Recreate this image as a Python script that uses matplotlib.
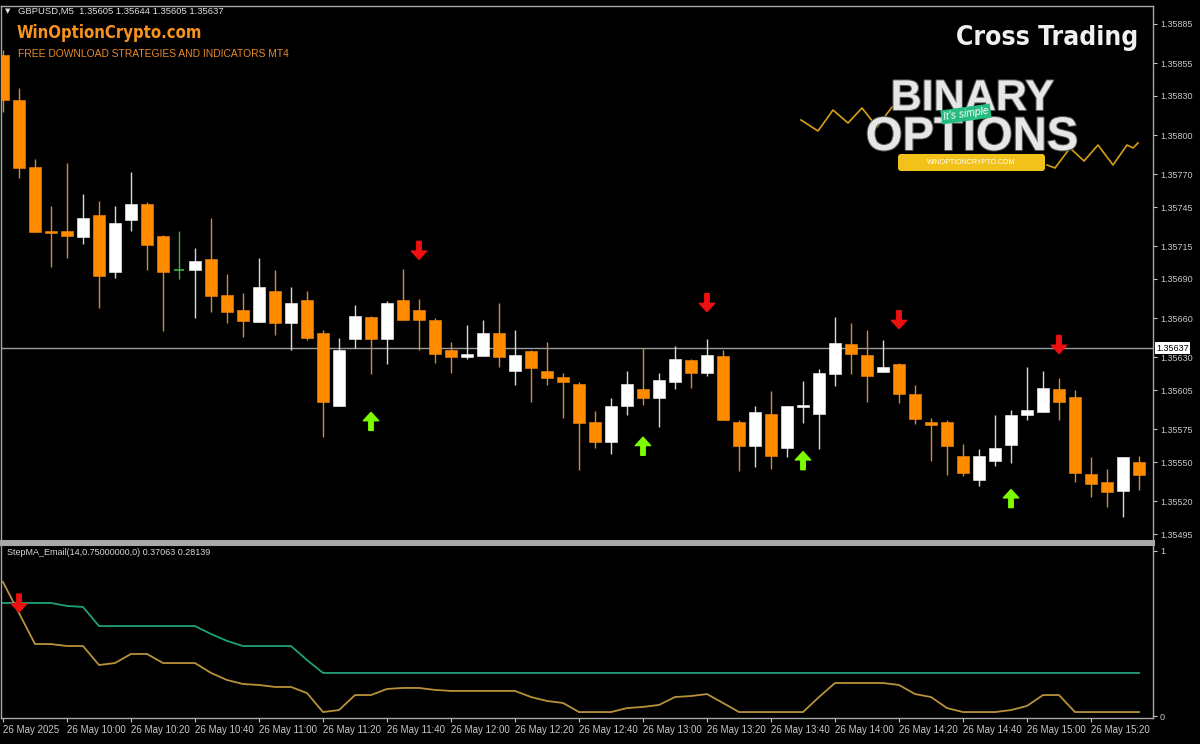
import matplotlib.pyplot as plt
import matplotlib.patheffects as pe
from matplotlib import font_manager as fm
from matplotlib.patches import FancyBboxPatch

plt.rcParams['font.family'] = ['Liberation Sans', 'DejaVu Sans']

# GBPUSD M5 candles, 26 May 2025 09:40 .. 15:35
opens = [1.35861, 1.35827, 1.35776, 1.35727, 1.35727, 1.35722, 1.35739, 1.35695, 1.35735, 1.35747,
         1.35723, 1.35697, 1.35697, 1.35705, 1.35678, 1.35666, 1.35657, 1.35681, 1.35656, 1.35674,
         1.35649, 1.35593, 1.35644, 1.35661, 1.35644, 1.35674, 1.35666, 1.35659, 1.35636, 1.35630,
         1.35631, 1.35649, 1.35620, 1.35635, 1.35620, 1.35615, 1.35610, 1.35581, 1.35565, 1.35593,
         1.35606, 1.35599, 1.35611, 1.35628, 1.35618, 1.35631, 1.35581, 1.35562, 1.35587, 1.35561,
         1.35592, 1.35587, 1.35617, 1.35640, 1.35632, 1.35619, 1.35625, 1.35602, 1.35581, 1.35581,
         1.35555, 1.35536, 1.35551, 1.35563, 1.35586, 1.35588, 1.35606, 1.35600, 1.35541, 1.35535,
         1.35528, 1.35550]
highs = [1.35865, 1.35836, 1.35782, 1.35746, 1.35779, 1.35755, 1.35750, 1.35746, 1.35772, 1.35749,
         1.35724, 1.35727, 1.35714, 1.35737, 1.35694, 1.35679, 1.35706, 1.35697, 1.35684, 1.35681,
         1.35651, 1.35645, 1.35670, 1.35662, 1.35673, 1.35698, 1.35675, 1.35660, 1.35642, 1.35655,
         1.35659, 1.35672, 1.35651, 1.35636, 1.35642, 1.35618, 1.35611, 1.35589, 1.35599, 1.35620,
         1.35637, 1.35618, 1.35639, 1.35629, 1.35644, 1.35636, 1.35582, 1.35593, 1.35604, 1.35593,
         1.35612, 1.35621, 1.35661, 1.35656, 1.35651, 1.35643, 1.35626, 1.35609, 1.35584, 1.35582,
         1.35564, 1.35560, 1.35586, 1.35590, 1.35623, 1.35620, 1.35614, 1.35605, 1.35554, 1.35545,
         1.35554, 1.35555]
lows = [1.35818, 1.35767, 1.35726, 1.35699, 1.35706, 1.35717, 1.35668, 1.35691, 1.35727, 1.35697,
        1.35650, 1.35690, 1.35660, 1.35665, 1.35656, 1.35646, 1.35657, 1.35647, 1.35636, 1.35643,
        1.35569, 1.35593, 1.35637, 1.35617, 1.35625, 1.35659, 1.35636, 1.35626, 1.35618, 1.35629,
        1.35631, 1.35623, 1.35609, 1.35596, 1.35609, 1.35584, 1.35544, 1.35561, 1.35556, 1.35586,
        1.35594, 1.35577, 1.35606, 1.35607, 1.35616, 1.35582, 1.35543, 1.35546, 1.35545, 1.35554,
        1.35580, 1.35560, 1.35608, 1.35617, 1.35596, 1.35619, 1.35595, 1.35579, 1.35551, 1.35540,
        1.35539, 1.35532, 1.35547, 1.35549, 1.35582, 1.35588, 1.35582, 1.35535, 1.35523, 1.35516,
        1.35508, 1.35529]
closes = [1.35827, 1.35775, 1.35726, 1.35725, 1.35723, 1.35737, 1.35692, 1.35733, 1.35747, 1.35716,
          1.35695, 1.35697, 1.35704, 1.35677, 1.35665, 1.35658, 1.35684, 1.35656, 1.35672, 1.35645,
          1.35596, 1.35636, 1.35662, 1.35644, 1.35672, 1.35659, 1.35659, 1.35633, 1.35630, 1.35633,
          1.35649, 1.35630, 1.35632, 1.35622, 1.35614, 1.35611, 1.35580, 1.35565, 1.35593, 1.35610,
          1.35599, 1.35613, 1.35629, 1.35618, 1.35632, 1.35582, 1.35562, 1.35588, 1.35555, 1.35593,
          1.35594, 1.35618, 1.35641, 1.35633, 1.35616, 1.35623, 1.35602, 1.35583, 1.35578, 1.35562,
          1.35542, 1.35555, 1.35561, 1.35586, 1.35590, 1.35607, 1.35596, 1.35542, 1.35533, 1.35527,
          1.35554, 1.35540]

# signal arrows (bar index, price at arrow tip)
sell_bars = [26, 44, 56, 66]
sell_levels = [1.35705, 1.35665, 1.35652, 1.35633]
buy_bars = [23, 40, 50, 63]
buy_levels = [1.35588, 1.35569, 1.35558, 1.35529]

bid_price = 1.35637
price_ticks = [1.35885, 1.35855, 1.35830, 1.35800, 1.35770, 1.35745, 1.35715, 1.35690,
               1.35660, 1.35630, 1.35605, 1.35575, 1.35550, 1.35520, 1.35495]
time_labels = ["26 May 2025", "26 May 10:00", "26 May 10:20", "26 May 10:40", "26 May 11:00",
               "26 May 11:20", "26 May 11:40", "26 May 12:00", "26 May 12:20", "26 May 12:40",
               "26 May 13:00", "26 May 13:20", "26 May 13:40", "26 May 14:00", "26 May 14:20",
               "26 May 14:40", "26 May 15:00", "26 May 15:20"]

# StepMA_Email sub window
step_fast = [0.685, 0.685, 0.685, 0.685, 0.667, 0.661, 0.545, 0.545, 0.545, 0.545,
             0.545, 0.545, 0.545, 0.497, 0.455, 0.424, 0.424, 0.424, 0.424, 0.339,
             0.261, 0.261, 0.261, 0.261, 0.261, 0.261, 0.261, 0.261, 0.261, 0.261,
             0.261, 0.261, 0.261, 0.261, 0.261, 0.261, 0.261, 0.261, 0.261, 0.261,
             0.261, 0.261, 0.261, 0.261, 0.261, 0.261, 0.261, 0.261, 0.261, 0.261,
             0.261, 0.261, 0.261, 0.261, 0.261, 0.261, 0.261, 0.261, 0.261, 0.261,
             0.261, 0.261, 0.261, 0.261, 0.261, 0.261, 0.261, 0.261, 0.261, 0.261,
             0.261, 0.261]
step_slow = [0.812, 0.624, 0.436, 0.436, 0.424, 0.424, 0.309, 0.321, 0.376, 0.376,
             0.321, 0.321, 0.321, 0.261, 0.218, 0.194, 0.188, 0.176, 0.176, 0.139,
             0.024, 0.036, 0.127, 0.127, 0.164, 0.170, 0.170, 0.158, 0.152, 0.152,
             0.152, 0.152, 0.152, 0.115, 0.091, 0.079, 0.024, 0.024, 0.024, 0.048,
             0.055, 0.067, 0.115, 0.121, 0.133, 0.079, 0.024, 0.024, 0.024, 0.024,
             0.024, 0.115, 0.200, 0.200, 0.200, 0.200, 0.188, 0.133, 0.115, 0.048,
             0.024, 0.024, 0.024, 0.036, 0.061, 0.127, 0.127, 0.024, 0.024, 0.024,
             0.024, 0.024]
ind_signal_bar = 1
ind_signal_level = 0.63

BG = 'black'
FG = '#c8c8c8'
BEAR = '#ff8c00'
BULL = '#ffffff'
DOJI = '#3cb43c'
W, H = 1200, 744

# condensed bold face for the banner texts, if the system has one
cond_path = fm.findfont(fm.FontProperties(family='DejaVu Sans', weight='bold', stretch='condensed'))
narrow = 'Condensed' in cond_path
banner = dict(family=['DejaVu Sans'], fontweight='bold', fontstretch='condensed')

fig = plt.figure(figsize=(12, 7.44), dpi=100, facecolor=BG)


def arrow(axis, x, y, down, color):
    off = 13 if down else -13
    axis.annotate('', xy=(x, y), xytext=(0, off), textcoords='offset points',
                  arrowprops=dict(facecolor=color, edgecolor=color, width=3.2,
                                  headwidth=11, headlength=6, shrink=0), zorder=6)


def style_axes(axis):
    axis.set_facecolor(BG)
    for s in axis.spines.values():
        s.set_color('#a8a8a8')
        s.set_linewidth(1)
    axis.tick_params(axis='y', left=False, labelleft=False, right=True, labelright=True,
                     colors=FG, length=3, width=0.8, labelsize=6.5, pad=2)


# main price window
ax = fig.add_axes([1 / W, 203 / H, 1152 / W, 535 / H])
style_axes(ax)
ax.set_xlim(-0.125, 71.875)
ax.set_ylim(1.3548965, 1.3589876)

for i in range(len(opens)):
    o, h, l, c = opens[i], highs[i], lows[i], closes[i]
    if c > o:
        col, wick = BULL, '#d8d8d8'
    elif c < o:
        col, wick = BEAR, '#d08a40'
    else:
        col, wick = DOJI, DOJI
    ax.vlines(i, l, h, color=wick, lw=1, zorder=2)
    if c == o:
        ax.hlines(o, i - 0.34, i + 0.34, color=col, lw=1.2, zorder=3)
    else:
        ax.bar(i, abs(c - o), bottom=min(o, c), width=0.69, color=col,
               edgecolor=col, linewidth=0.4, zorder=3)

ax.axhline(bid_price, color='#9a9a9a', lw=1, zorder=1)

for b, lv in zip(sell_bars, sell_levels):
    arrow(ax, b, lv, True, '#ee1010')
for b, lv in zip(buy_bars, buy_levels):
    arrow(ax, b, lv, False, '#7cfc00')

ax.set_yticks(price_ticks)
ax.set_yticklabels([f'{p:.5f}' for p in price_ticks])
ax.set_xticks([])
ax.spines['bottom'].set_linewidth(2.2)
ax.text(1.003, bid_price, f'{bid_price:.5f}', transform=ax.get_yaxis_transform(),
        ha='left', va='center', fontsize=6.5, color='black', zorder=10, clip_on=False,
        bbox=dict(boxstyle='square,pad=0.15', fc='white', ec='none'))

# indicator window
ax2 = fig.add_axes([1 / W, 26 / H, 1152 / W, 174 / H])
style_axes(ax2)
ax2.set_xlim(-0.125, 71.875)
ax2.set_ylim(-0.0121, 1.0424)
bars = list(range(len(step_fast)))
ax2.plot(bars, step_fast, color='#1fa07c', lw=1.3)
ax2.plot(bars, step_slow, color='#b8923a', lw=1.3)
arrow(ax2, ind_signal_bar, ind_signal_level, True, '#ee1010')
ax2.spines['top'].set_linewidth(2.2)
ax2.set_yticks([0, 1])
ax2.set_yticklabels(['0', '1'])
ax2.set_xticks(range(0, len(opens), 4))
ax2.set_xticklabels(time_labels)
ax2.tick_params(axis='x', colors=FG, length=3, width=0.8, labelsize=7, pad=2)
for lab in ax2.get_xticklabels():
    lab.set_ha('left')
ax2.text(0.005, 0.975, 'StepMA_Email(14,0.75000000,0) 0.37063 0.28139', transform=ax2.transAxes,
         ha='left', va='top', fontsize=6.5, color='#d8d8d8')

# overlay texts and logo, in pixel coordinates
deco = fig.add_axes([0, 0, 1, 1])
deco.set_xlim(0, W)
deco.set_ylim(H, 0)
deco.axis('off')
deco.patch.set_alpha(0)

deco.text(5, 11, '▼', fontsize=5, color='#e0e0e0', va='center', family=['DejaVu Sans'])
deco.text(18, 11, 'GBPUSD,M5  1.35605 1.35644 1.35605 1.35637', fontsize=6.8,
          color='#e0e0e0', va='center')
deco.text(17, 33, 'WinOptionCrypto.com', fontsize=12 if narrow else 10.8, color='#f7931e',
          va='center', **banner)
deco.text(18, 54, 'FREE DOWNLOAD STRATEGIES AND INDICATORS MT4', fontsize=7.4,
          color='#e8892a', va='center')
deco.text(1138, 38, 'Cross Trading', fontsize=19 if narrow else 17, color='#f0f0f0',
          ha='right', va='center', **banner)

# BINARY OPTIONS logo
zig_left_x = [801, 818, 833, 848, 862, 877, 892, 901]
zig_left_y = [120, 131, 110, 123, 108, 127, 107, 105]
zig_right_x = [1047, 1055, 1070, 1084, 1098, 1113, 1127, 1133, 1138]
zig_right_y = [165, 168, 148, 161, 145, 165, 145, 148, 143]
deco.plot(zig_left_x, zig_left_y, color='#d4a017', lw=1.2)
deco.plot(zig_right_x, zig_right_y, color='#d4a017', lw=1.2)
shade = [pe.withStroke(linewidth=1.5, foreground='#555555')]
deco.text(972, 110, 'BINARY', fontsize=31, fontweight='bold', color='#e6e6e6',
          ha='center', va='baseline', path_effects=shade)
deco.text(972, 150, 'OPTIONS', fontsize=34, fontweight='bold', color='#e6e6e6',
          ha='center', va='baseline', path_effects=shade)
deco.text(966, 114, "It's simple", fontsize=7.5, style='italic', color='white', rotation=8,
          ha='center', va='center', zorder=5,
          bbox=dict(boxstyle='square,pad=0.2', fc='#26bb80', ec='none'))
deco.add_patch(FancyBboxPatch((898, 154), 147, 17, boxstyle='round,pad=0,rounding_size=3',
                              fc='#f2c21b', ec='none'))
deco.text(971, 162.5, 'WINOPTIONCRYPTO.COM', fontsize=5, color='white', ha='center', va='center')

fig.savefig('out.png', dpi=100, facecolor=BG)
